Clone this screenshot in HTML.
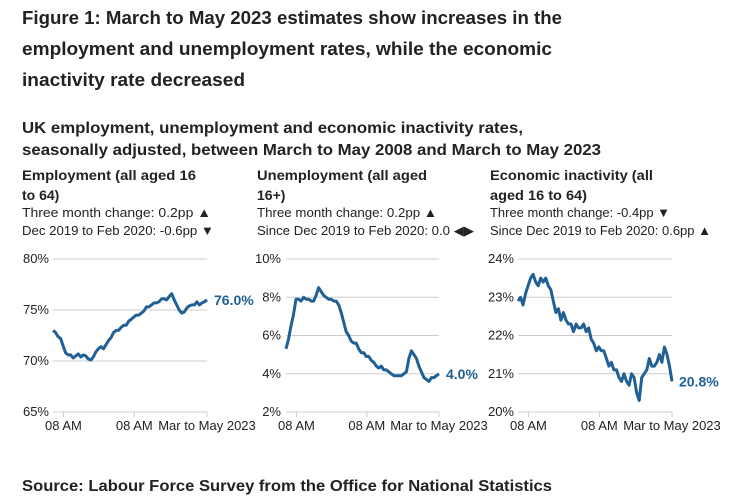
<!DOCTYPE html>
<html><head><meta charset="utf-8"><style>
html,body{margin:0;padding:0;background:#fff;}
svg{display:block;font-family:"Liberation Sans",sans-serif;}
.t{font-weight:bold;font-size:18px;fill:#222;}
.s{font-weight:bold;font-size:16px;fill:#222;}
.h{font-weight:bold;font-size:14px;fill:#222;}
.n{font-size:13px;fill:#222;}
.tick{font-size:13px;fill:#222;}
.end{font-weight:bold;font-size:14px;fill:#206095;}
</style></head><body>
<svg id="chart" width="743" height="500" viewBox="0 0 743 500">
<text class="t" x="22" y="24" textLength="540" lengthAdjust="spacingAndGlyphs">Figure 1: March to May 2023 estimates show increases in the</text>
<text class="t" x="22" y="55" textLength="530" lengthAdjust="spacingAndGlyphs">employment and unemployment rates, while the economic</text>
<text class="t" x="22" y="86" textLength="223" lengthAdjust="spacingAndGlyphs">inactivity rate decreased</text>
<text class="s" x="22" y="133" textLength="501" lengthAdjust="spacingAndGlyphs">UK employment, unemployment and economic inactivity rates,</text>
<text class="s" x="22" y="155" textLength="579" lengthAdjust="spacingAndGlyphs">seasonally adjusted, between March to May 2008 and March to May 2023</text>

<text class="h" x="22" y="180" textLength="174" lengthAdjust="spacingAndGlyphs">Employment (all aged 16</text>
<text class="h" x="22" y="200">to 64)</text>
<text class="n" x="22" y="217" textLength="189" lengthAdjust="spacingAndGlyphs">Three month change: 0.2pp ▲</text>
<text class="n" x="22" y="235" textLength="192" lengthAdjust="spacingAndGlyphs">Dec 2019 to Feb 2020: -0.6pp ▼</text>

<text class="h" x="257" y="180" textLength="170" lengthAdjust="spacingAndGlyphs">Unemployment (all aged</text>
<text class="h" x="257" y="200">16+)</text>
<text class="n" x="257" y="217" textLength="180" lengthAdjust="spacingAndGlyphs">Three month change: 0.2pp ▲</text>
<text class="n" x="257" y="235" textLength="217" lengthAdjust="spacingAndGlyphs">Since Dec 2019 to Feb 2020: 0.0 ◀▶</text>

<text class="h" x="490" y="180" textLength="163" lengthAdjust="spacingAndGlyphs">Economic inactivity (all</text>
<text class="h" x="490" y="200" textLength="97" lengthAdjust="spacingAndGlyphs">aged 16 to 64)</text>
<text class="n" x="490" y="217" textLength="180" lengthAdjust="spacingAndGlyphs">Three month change: -0.4pp ▼</text>
<text class="n" x="490" y="235" textLength="221" lengthAdjust="spacingAndGlyphs">Since Dec 2019 to Feb 2020: 0.6pp ▲</text>

<text class="s" x="22" y="491" textLength="530" lengthAdjust="spacingAndGlyphs">Source: Labour Force Survey from the Office for National Statistics</text>
<g id="panels"></g>
</svg>
<script>
const employment = [73.0,72.8,72.4,72.2,71.5,70.8,70.6,70.6,70.3,70.5,70.7,70.4,70.6,70.5,70.2,70.1,70.4,70.9,71.2,71.4,71.2,71.6,72.0,72.3,72.8,73.0,73.0,73.3,73.5,73.5,73.9,74.1,74.3,74.5,74.5,74.7,74.9,75.3,75.3,75.5,75.7,75.7,75.8,76.1,76.1,76.0,76.3,76.6,76.0,75.5,75.0,74.7,74.8,75.2,75.4,75.5,75.5,75.8,75.5,75.7,75.8,76.0];
const unemployment = [5.3,5.8,6.5,7.1,7.9,7.9,7.8,8.0,7.9,7.9,7.8,7.8,8.1,8.5,8.3,8.1,8.0,7.9,7.9,7.8,7.8,7.6,7.2,6.7,6.2,6.0,5.7,5.6,5.6,5.3,5.1,5.1,4.9,4.9,4.7,4.6,4.4,4.3,4.4,4.2,4.2,4.1,4.0,3.9,3.9,3.9,3.9,4.0,4.1,4.8,5.2,5.0,4.8,4.4,4.1,3.8,3.7,3.6,3.8,3.8,3.9,4.0];
const inactivity = [22.9,23.0,22.8,23.1,23.3,23.5,23.6,23.4,23.3,23.5,23.4,23.5,23.3,23.2,22.9,22.6,22.7,22.4,22.6,22.4,22.3,22.3,22.1,22.3,22.2,22.2,22.3,22.1,22.2,21.9,21.8,21.6,21.7,21.6,21.6,21.4,21.2,21.3,21.1,21.1,20.9,20.8,21.0,20.8,20.7,21.0,20.9,20.5,20.3,20.9,21.0,21.1,21.4,21.2,21.2,21.3,21.5,21.3,21.7,21.5,21.2,20.8];
const empTicks = [65,70,75,80];
const unempTicks = [2,4,6,8,10];
const inactTicks = [20,21,22,23,24];
const xTickLabels = ["08 AM","08 AM","Mar to May 2023"];
const xTickFrac = [0.068,0.528,1];
const endLabels = ["76.0%","4.0%","20.8%"];

const NS = "http://www.w3.org/2000/svg";
const root = document.getElementById('panels');
function mk(tag, attrs, parent){const e=document.createElementNS(NS,tag);for(const k in attrs)e.setAttribute(k,attrs[k]);parent.appendChild(e);return e;}

function panel(name, data, ticks, x0, x1, labelX, endLabel){
  const yTop=259, yBot=412;
  const lo=ticks[0], hi=ticks[ticks.length-1];
  const y=v=>yBot-(v-lo)/(hi-lo)*(yBot-yTop);
  const x=i=>x0+i/(data.length-1)*(x1-x0);
  const g=mk('g',{},root);
  
  
  ticks.forEach(t=>{
    const l=mk('line',{x1:x0,x2:x1,y1:y(t),y2:y(t),stroke:'#ccc','stroke-width':1},g);
    
    
    const tx=mk('text',{x:labelX,y:y(t)+4,'text-anchor':'end',class:'tick'},g);
    tx.textContent=t+'%';
    
    
  });
  xTickLabels.forEach((s,i)=>{
    const xx=x0+xTickFrac[i]*(x1-x0);
    const tl=mk('line',{x1:xx,x2:xx,y1:yBot,y2:yBot+5,stroke:'#ccc','stroke-width':1},g);
    
    
    const tx=mk('text',{x:xx,y:yBot+18,'text-anchor':'middle',class:'tick'},g);
    tx.textContent=s;
    
    
  });
  const d=data.map((v,i)=>(i?'L':'M')+x(i).toFixed(1)+','+y(v).toFixed(1)).join('');
  const p=mk('path',{d:d,fill:'none',stroke:'#206095','stroke-width':3,'stroke-linejoin':'round'},g);
  
  
  const e=mk('text',{x:x1+7,y:y(data[data.length-1])+5,class:'end'},g);
  e.textContent=endLabel;
  
  
}
panel('employment', employment, empTicks, 53, 207, 49, endLabels[0]);
panel('unemployment', unemployment, unempTicks, 286, 439, 281, endLabels[1]);
panel('inactivity', inactivity, inactTicks, 518, 672, 514, endLabels[2]);
</script>
</body></html>
